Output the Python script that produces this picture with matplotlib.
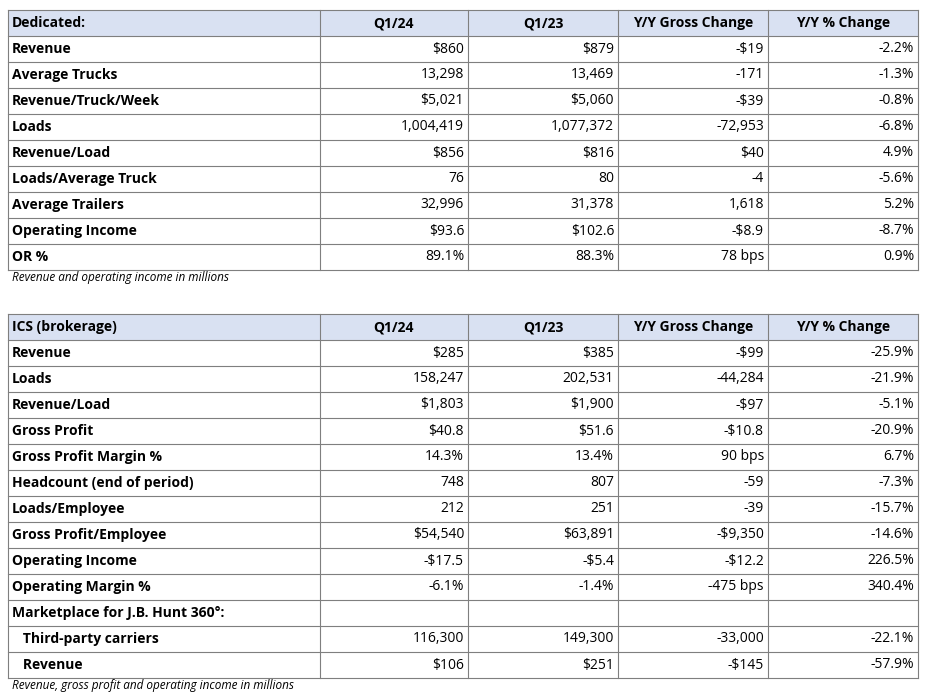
import matplotlib
matplotlib.use("Agg")
import matplotlib.pyplot as plt
from matplotlib.patches import Rectangle

cols = ["Q1/24", "Q1/23", "Y/Y Gross Change", "Y/Y % Change"]

ded_title = "Dedicated:"
ded_labels = ["Revenue", "Average Trucks", "Revenue/Truck/Week", "Loads", "Revenue/Load",
              "Loads/Average Truck", "Average Trailers", "Operating Income", "OR %"]
ded_q124 = ["$860", "13,298", "$5,021", "1,004,419", "$856", "76", "32,996", "$93.6", "89.1%"]
ded_q123 = ["$879", "13,469", "$5,060", "1,077,372", "$816", "80", "31,378", "$102.6", "88.3%"]
ded_gross = ["-$19", "-171", "-$39", "-72,953", "$40", "-4", "1,618", "-$8.9", "78 bps"]
ded_pct = ["-2.2%", "-1.3%", "-0.8%", "-6.8%", "4.9%", "-5.6%", "5.2%", "-8.7%", "0.9%"]
ded_note = "Revenue and operating income in millions"

ics_title = "ICS (brokerage)"
ics_labels = ["Revenue", "Loads", "Revenue/Load", "Gross Profit", "Gross Profit Margin %",
              "Headcount (end of period)", "Loads/Employee", "Gross Profit/Employee",
              "Operating Income", "Operating Margin %", "Marketplace for J.B. Hunt 360°:",
              "   Third-party carriers", "   Revenue"]
ics_q124 = ["$285", "158,247", "$1,803", "$40.8", "14.3%", "748", "212", "$54,540", "-$17.5", "-6.1%", "", "116,300", "$106"]
ics_q123 = ["$385", "202,531", "$1,900", "$51.6", "13.4%", "807", "251", "$63,891", "-$5.4", "-1.4%", "", "149,300", "$251"]
ics_gross = ["-$99", "-44,284", "-$97", "-$10.8", "90 bps", "-59", "-39", "-$9,350", "-$12.2", "-475 bps", "", "-33,000", "-$145"]
ics_pct = ["-25.9%", "-21.9%", "-5.1%", "-20.9%", "6.7%", "-7.3%", "-15.7%", "-14.6%", "226.5%", "340.4%", "", "-22.1%", "-57.9%"]
ics_note = "Revenue, gross profit and operating income in millions"

W, H = 934, 698
fig = plt.figure(figsize=(W/100, H/100), dpi=100)
ax = fig.add_axes([0, 0, 1, 1])
ax.set_xlim(0, W); ax.set_ylim(H, 0); ax.axis("off")
xs = [8, 320, 468, 618, 768, 918]
RH = 26
FONT = "Open Sans"
FS = 10

def table(y0, title, labels, c1, c2, c3, c4, note):
    n = len(labels) + 1
    ax.add_patch(Rectangle((xs[0], y0), xs[-1]-xs[0], RH, facecolor="#D9E1F2", edgecolor="none"))
    for i in range(n + 1):
        ax.plot([xs[0], xs[-1]], [y0 + i*RH]*2, color="#7f7f7f", lw=0.8)
    for x in xs:
        ax.plot([x, x], [y0, y0 + n*RH], color="#7f7f7f", lw=0.8)
    yc = y0 + RH/2
    ax.text(xs[0]+4, yc, title, ha="left", va="center", fontsize=FS, fontweight="bold", family=FONT)
    for j, c in enumerate(cols):
        ax.text((xs[j+1]+xs[j+2])/2, yc, c, ha="center", va="center", fontsize=FS, fontweight="bold", family=FONT)
    for i, lab in enumerate(labels):
        yc = y0 + (i+1.5)*RH
        ax.text(xs[0]+4, yc, lab, ha="left", va="center", fontsize=FS, fontweight="bold", family=FONT)
        for j, v in enumerate([c1[i], c2[i], c3[i], c4[i]]):
            ax.text(xs[j+2]-4, yc, v, ha="right", va="center", fontsize=FS, family=FONT)
    ax.text(xs[0]+4, y0 + n*RH + 8, note, ha="left", va="center", fontsize=8.5, style="italic", family=FONT)

table(10, ded_title, ded_labels, ded_q124, ded_q123, ded_gross, ded_pct, ded_note)
table(314, ics_title, ics_labels, ics_q124, ics_q123, ics_gross, ics_pct, ics_note)
fig.savefig("out.png", dpi=100, facecolor="white")
